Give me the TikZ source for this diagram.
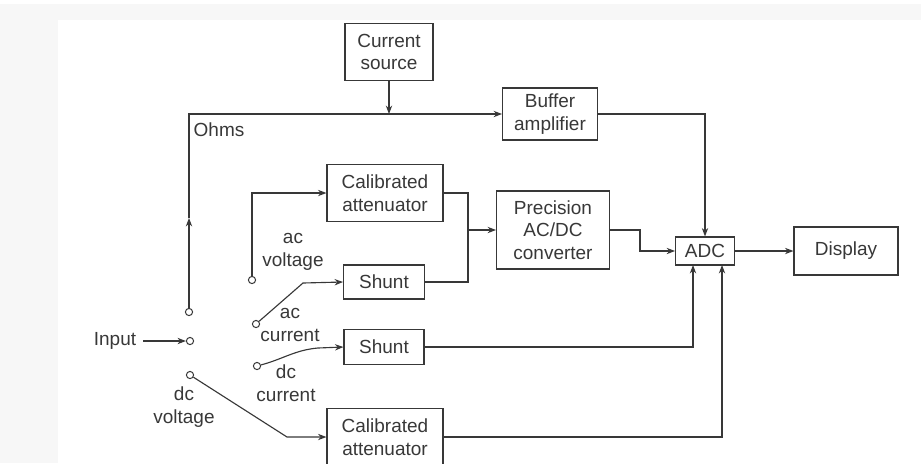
\documentclass[tikz,border=0pt]{standalone}
\usepackage{fontspec}
\setmainfont{Liberation Sans}
\usepackage{tikz}
\usetikzlibrary{arrows.meta}
\tikzstyle{blk}=[draw, line width=0.8pt, inner sep=1pt, align=center, font=\fontsize{13.5}{16}\selectfont]
\tikzstyle{lbl}=[inner sep=0pt, align=center, font=\fontsize{13.5}{16.5}\selectfont]
\tikzstyle{term}=[circle, draw, fill=white, line width=0.7pt, inner sep=0pt, minimum size=0.18cm]
\tikzstyle{wire}=[line width=0.8pt]

\begin{document}
\begin{tikzpicture}[x=0.025cm, y=-0.025cm, color=black!78, >={Stealth[length=6pt,width=4.5pt]}]
\useasboundingbox (0,0) rectangle (921,463);
\fill[black!3] (0,4) rectangle (921,463);
\fill[white] (58,20) rectangle (921,463);

% blocks
\node (cursrc) at (389,52) [blk, minimum width=2.2cm, minimum height=1.42cm] {Current\\source};
\node (buffer) at (550,114) [blk, minimum width=2.37cm, minimum height=1.3cm] {Buffer\\amplifier};
\node (calatt1) at (385,193) [blk, minimum width=2.9cm, minimum height=1.42cm] {Calibrated\\attenuator};
\node (shunt1) at (384,282) [blk, minimum width=2.02cm, minimum height=0.85cm] {Shunt};
\node (prec) at (553,230) [blk, minimum width=2.82cm, minimum height=1.95cm] {Precision\\AC/DC\\converter};
\node (adc) at (705,251) [blk, minimum width=1.47cm, minimum height=0.7cm] {ADC};
\node (disp) at (846,251) [blk, minimum width=2.6cm, minimum height=1.2cm] {Display};
\node (shunt2) at (384,347) [blk, minimum width=2cm, minimum height=0.87cm] {Shunt};
\node (calatt2) at (385,437) [blk, minimum width=2.9cm, minimum height=1.42cm] {Calibrated\\attenuator};

% switch terminals
\node (tohm) at (189,312) [term] {};
\node (tin) at (190,341) [term] {};
\node (tdcv) at (190,375) [term] {};
\node (tacv) at (252,280) [term] {};
\node (taci) at (256,324) [term] {};
\node (tdci) at (257,366) [term] {};

% labels
\node (ohms) at (219,130) [lbl] {Ohms};
\node (input) at (115,341) [lbl] {Input};
\node (lacv) at (293,252) [lbl] {ac\\voltage};
\node (laci) at (290,325) [lbl] {ac\\current};
\node (ldci) at (286,383) [lbl] {dc\\current};
\node (ldcv) at (184,407) [lbl] {dc\\voltage};

% junctions
\coordinate (jtop) at (389,114);
\coordinate (ohmup) at (189,218);
\coordinate (jmid) at (468,230);
\coordinate (jadc) at (640,230);
\coordinate (adcin2) at (693,265);
\coordinate (adcin3) at (722,265);
\coordinate (bend1) at (303,283);
\coordinate (bend2) at (318,348);
\coordinate (bend3) at (287,437);

% connectors
\draw[wire, ->] (cursrc) -- (jtop);
\draw[wire, ->] (tohm) -- (ohmup);
\draw[wire, ->] (ohmup) |- (buffer.west);
\draw[wire, ->, shorten <=5pt] (input) -- (tin);
\draw[wire, ->] (tacv) |- (calatt1.west);
\draw[wire, ->] (taci) -- (bend1) -- (shunt1.west);
\draw[wire, ->] (tdci) to[out=15,in=185] (bend2) -- (shunt2.west);
\draw[wire, ->] (tdcv) -- (bend3) -- (calatt2.west);
\draw[wire] (calatt1.east) -| (jmid) |- (shunt1.east);
\draw[wire, ->] (jmid) -- (prec.west);
\draw[wire, ->] (prec.east) -- (jadc) |- (adc.west);
\draw[wire, ->] (buffer.east) -| (adc.north);
\draw[wire, ->] (shunt2.east) -| (adcin2);
\draw[wire, ->] (calatt2.east) -| (adcin3);
\draw[wire, ->] (adc) -- (disp);

\end{tikzpicture}
\end{document}
